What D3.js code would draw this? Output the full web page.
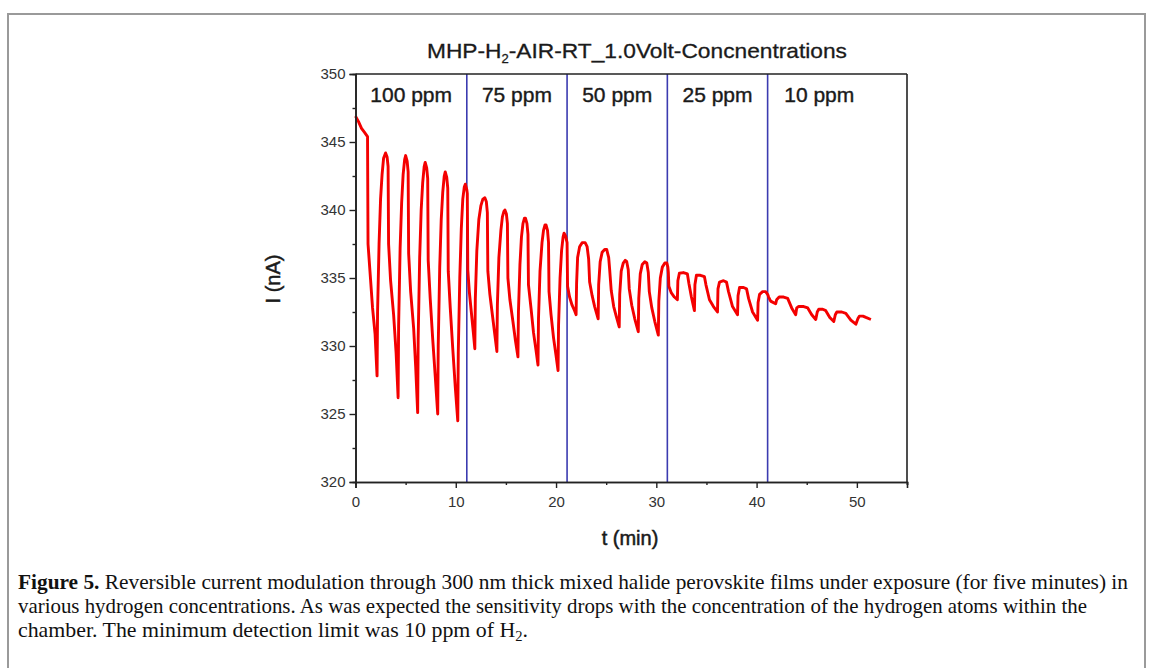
<!DOCTYPE html>
<html><head><meta charset="utf-8">
<script src="https://cdn.jsdelivr.net/npm/d3@7"></script>
<style>body{margin:0;background:#fff;} svg{display:block;}</style>
</head><body>
<svg id="c" width="1153" height="668"></svg>
<script>
// ---------- data ----------
const xTicks = [0, 10, 20, 30, 40, 50];
const xMinor = [5, 15, 25, 35, 45, 55];
const yTicks = [320, 325, 330, 335, 340, 345, 350];
const yMinor = [322.5, 327.5, 332.5, 337.5, 342.5, 347.5];
const regionLabels = ["100 ppm", "75 ppm", "50 ppm", "25 ppm", "10 ppm"];
const regionEdges = [0, 11.1, 21.1, 31.1, 41.1, 51.4];
const switchTimes = [11.1, 21.1, 31.1, 41.1];

// [t (min), I (nA)]
const seg100 = [
  [0.0,346.9],[0.3,346.5],[0.6,346.0],[0.9,345.7],[1.2,345.4],
  [1.25,337.5],[1.5,334.9],[1.7,332.8],[1.95,330.9],[2.15,327.8],
  [2.2,332.5],[2.35,337.5],[2.5,340.8],[2.65,342.6],[2.8,343.8],[3.0,344.2],[3.15,343.9],
  [3.25,343.2],[3.3,337.5],[3.5,334.8],[3.8,332.3],[4.05,329.5],[4.25,326.2],
  [4.3,331.5],[4.45,337.2],[4.6,340.5],[4.75,342.6],[4.9,343.7],[5.0,344.0],[5.15,343.6],
  [5.25,342.8],[5.3,336.8],[5.5,334.0],[5.8,331.3],[6.0,328.5],[6.2,325.1],
  [6.25,330.5],[6.4,336.5],[6.55,340.0],[6.7,342.0],[6.85,343.2],[6.95,343.5],[7.1,343.1],
  [7.2,342.3],[7.25,336.3],[7.45,333.5],[7.7,330.5],[7.95,327.8],[8.2,325.0],
  [8.25,330.0],[8.4,335.8],[8.55,339.3],[8.7,341.3],[8.85,342.5],[8.95,342.8],[9.1,342.4],
  [9.2,341.6],[9.25,335.5],[9.45,332.8],[9.7,329.8],[9.95,327.0],[10.2,324.5],
  [10.25,329.5],[10.4,335.0],[10.55,338.6],[10.7,340.8],[10.85,341.7],[10.95,341.9],[11.1,341.5]
];
const seg75 = [
  [11.15,341.2],[11.2,335.6],[11.35,334.0],[11.55,332.5],[11.75,331.0],[11.9,329.8],
  [11.95,333.5],[12.1,337.0],[12.3,339.3],[12.5,340.3],[12.7,340.8],[12.9,340.9],[13.05,340.6],
  [13.15,339.8],[13.2,335.5],[13.4,333.8],[13.65,332.3],[13.9,330.8],[14.1,329.6],
  [14.15,333.0],[14.3,336.5],[14.5,338.5],[14.65,339.5],[14.8,339.9],[14.9,340.0],[15.05,339.7],
  [15.15,339.0],[15.2,335.0],[15.4,333.4],[15.7,331.8],[15.95,330.4],[16.2,329.2],
  [16.25,332.5],[16.4,336.0],[16.55,338.0],[16.7,339.0],[16.85,339.4],[16.95,339.4],[17.1,339.0],
  [17.2,338.2],[17.25,334.5],[17.5,332.8],[17.75,331.0],[18.0,329.7],[18.2,328.6],
  [18.25,332.0],[18.4,335.5],[18.6,337.6],[18.75,338.5],[18.9,338.9],[19.0,338.9],[19.15,338.5],
  [19.25,337.6],[19.3,334.0],[19.5,332.3],[19.75,330.6],[20.0,329.3],[20.2,328.2],
  [20.25,331.5],[20.4,335.0],[20.55,337.0],[20.7,338.0],[20.8,338.3],[20.95,338.1]
];
const seg50 = [
  [21.1,337.6],[21.15,334.4],[21.35,333.6],[21.6,333.0],[21.85,332.6],[22.0,332.3],
  [22.05,334.6],[22.15,336.5],[22.35,337.3],[22.6,337.6],[22.9,337.6],[23.1,337.3],[23.25,336.4],
  [23.35,334.7],[23.6,333.7],[23.85,332.9],[24.2,332.0],
  [24.25,334.5],[24.4,336.2],[24.6,336.9],[24.85,337.1],[25.05,337.1],[25.25,336.5],[25.35,335.6],
  [25.5,334.1],[25.75,332.9],[26.0,332.2],[26.3,331.4],
  [26.35,333.8],[26.5,335.5],[26.7,336.1],[26.9,336.3],[27.05,336.2],[27.2,335.6],
  [27.3,334.2],[27.55,333.0],[27.85,332.0],[28.2,331.05],
  [28.25,333.5],[28.4,335.3],[28.6,336.0],[28.85,336.2],[29.05,336.1],[29.2,335.4],
  [29.3,334.0],[29.55,332.8],[29.85,331.8],[30.2,330.8],
  [30.25,333.3],[30.4,335.0],[30.6,335.8],[30.85,336.1],[31.05,336.1],[31.15,335.8]
];
const seg25 = [
  [31.2,335.4],[31.25,334.4],[31.5,333.9],[31.8,333.6],[32.1,333.4],
  [32.15,334.8],[32.3,335.35],[32.7,335.4],[33.1,335.3],[33.25,334.6],[33.5,333.6],[33.8,332.6],
  [33.85,334.5],[34.0,335.2],[34.4,335.2],[34.8,335.1],[34.95,334.5],[35.3,333.4],[35.7,332.9],[36.1,332.5],
  [36.15,334.2],[36.3,334.7],[36.7,334.8],[37.0,334.7],[37.2,334.0],[37.6,332.9],[38.1,332.3],
  [38.15,333.7],[38.3,334.3],[38.7,334.3],[39.0,334.2],[39.2,333.5],[39.6,332.5],[40.1,331.9],
  [40.15,333.2],[40.3,333.8],[40.6,334.0],[40.9,334.0],[41.1,333.8]
];
const seg10 = [
  [41.2,333.6],[41.4,333.3],[41.9,333.1],[42.0,333.4],[42.25,333.6],[42.7,333.6],[43.1,333.5],[43.5,332.8],[43.9,332.3],
  [44.0,332.8],[44.2,332.9],[44.7,332.9],[45.1,332.8],[45.5,332.3],[45.9,331.95],
  [46.05,332.5],[46.2,332.7],[46.6,332.7],[46.9,332.6],[47.3,332.1],[47.7,331.8],
  [47.85,332.3],[48.0,332.5],[48.5,332.5],[48.9,332.4],[49.4,331.9],[49.9,331.6],
  [50.1,332.0],[50.25,332.2],[50.6,332.2],[50.9,332.1],[51.4,331.95]
];

// ---------- chart ----------
const svg = d3.select("#c");
const x = d3.scaleLinear().domain([0, 55]).range([355.5, 907]);
const y = d3.scaleLinear().domain([320, 350]).range([482, 74]);
const axisColor = "#222";
const FONT = "Liberation Sans, Arial, sans-serif";

// outer frame
svg.append("rect").attr("x", 8).attr("y", 14).attr("width", 1137).attr("height", 700)
  .attr("fill", "none").attr("stroke", "#9a9a9a").attr("stroke-width", 2);

// switch lines
svg.append("g").selectAll("line").data(switchTimes).join("line")
  .attr("x1", d => x(d)).attr("x2", d => x(d)).attr("y1", y(350)).attr("y2", y(320))
  .attr("stroke", "#3b3bb0").attr("stroke-width", 1.6);

// data line
const data = [].concat(seg100, seg75, seg50, seg25, seg10);
svg.append("path").datum(data)
  .attr("fill", "none").attr("stroke", "#f40000").attr("stroke-width", 2.9)
  .attr("stroke-linejoin", "round")
  .attr("d", d3.line().x(d => x(d[0])).y(d => y(d[1])));

// axes
const gx = svg.append("g").attr("transform", `translate(0,${y(320)})`)
  .call(d3.axisBottom(x).tickValues(xTicks).tickFormat(d3.format("d")).tickSize(6).tickPadding(8));
const gxm = svg.append("g").attr("transform", `translate(0,${y(320)})`)
  .call(d3.axisBottom(x).tickValues(xMinor).tickFormat("").tickSize(3));
const gy = svg.append("g").attr("transform", `translate(${x(0)},0)`)
  .call(d3.axisLeft(y).tickValues(yTicks).tickFormat(d3.format("d")).tickSize(6).tickPadding(4));
const gym = svg.append("g").attr("transform", `translate(${x(0)},0)`)
  .call(d3.axisLeft(y).tickValues(yMinor).tickFormat("").tickSize(3));
[gx, gxm, gy, gym].forEach(g => {
  g.select(".domain").attr("stroke", axisColor).attr("stroke-width", 1.6);
  g.selectAll(".tick line").attr("stroke", axisColor).attr("stroke-width", 1.4);
  g.selectAll("text").attr("fill", "#333").style("font-family", FONT).style("font-size", "15px");
});
// top and right frame lines
svg.append("line").attr("x1", x(0)).attr("x2", x(55)).attr("y1", y(350)).attr("y2", y(350))
  .attr("stroke", axisColor).attr("stroke-width", 1.6);
svg.append("line").attr("x1", x(55)).attr("x2", x(55)).attr("y1", y(350)).attr("y2", y(320))
  .attr("stroke", axisColor).attr("stroke-width", 1.6);

// region labels
svg.append("g").selectAll("text").data(regionLabels).join("text")
  .attr("x", (d, i) => x((regionEdges[i] + regionEdges[i + 1]) / 2))
  .attr("y", 102)
  .attr("text-anchor", "middle")
  .style("font-family", FONT).style("font-size", "21px").attr("fill", "#1a1a1a")
  .attr("stroke", "#1a1a1a").attr("stroke-width", 0.4)
  .text(d => d);

// title
const t = svg.append("text").attr("x", 427).attr("y", 58)
  .attr("textLength", 420).attr("lengthAdjust", "spacingAndGlyphs")
  .style("font-family", FONT).style("font-size", "21px").attr("fill", "#1a1a1a")
  .attr("stroke", "#1a1a1a").attr("stroke-width", 0.3);
t.append("tspan").text("MHP-H");
t.append("tspan").attr("dy", 5).style("font-size", "12px").text("2");
t.append("tspan").attr("dy", -5).text("-AIR-RT_1.0Volt-Concnentrations");

// axis titles
svg.append("text").attr("x", 630).attr("y", 545).attr("text-anchor", "middle")
  .style("font-family", FONT).style("font-size", "20px").attr("fill", "#1a1a1a")
  .attr("stroke", "#1a1a1a").attr("stroke-width", 0.5)
  .text("t (min)");
svg.append("text").attr("transform", "translate(280,279) rotate(-90)").attr("text-anchor", "middle")
  .style("font-family", FONT).style("font-size", "20px").attr("fill", "#1a1a1a")
  .attr("stroke", "#1a1a1a").attr("stroke-width", 0.5)
  .text("I (nA)");

// caption
const SERIF = "Liberation Serif, 'Times New Roman', serif";
const cap = svg.append("g").style("font-family", SERIF).style("font-size", "21px").attr("fill", "#111");
const l1 = cap.append("text").attr("x", 18).attr("y", 589).attr("textLength", 1110).attr("lengthAdjust", "spacingAndGlyphs");
l1.append("tspan").style("font-weight", "bold").text("Figure 5.");
l1.append("tspan").text(" Reversible current modulation through 300 nm thick mixed halide perovskite films under exposure (for five minutes) in");
cap.append("text").attr("x", 18).attr("y", 613).attr("textLength", 1069).attr("lengthAdjust", "spacingAndGlyphs")
  .text("various hydrogen concentrations. As was expected the sensitivity drops with the concentration of the hydrogen atoms within the");
const l3 = cap.append("text").attr("x", 18).attr("y", 637).attr("textLength", 510).attr("lengthAdjust", "spacingAndGlyphs");
l3.append("tspan").text("chamber. The minimum detection limit was 10 ppm of H");
l3.append("tspan").attr("dy", 4).style("font-size", "14px").text("2");
l3.append("tspan").attr("dy", -4).text(".");
</script>
</body></html>
